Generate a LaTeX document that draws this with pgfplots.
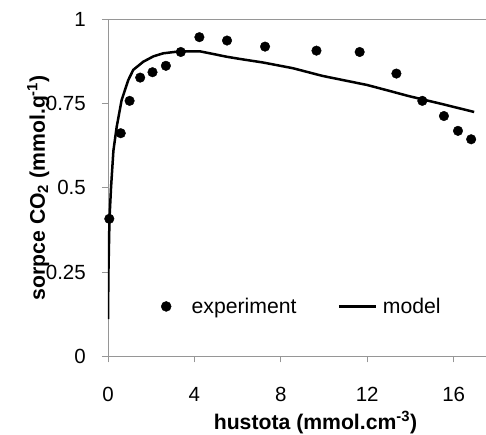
\documentclass[border=0pt]{standalone}
\usepackage{fontspec}
\setmainfont{Liberation Sans}
\usepackage{pgfplots}
\pgfplotsset{compat=1.18}
\definecolor{axgray}{RGB}{150,150,150}
\newcommand\fs{\fontsize{20.5}{24.6}\selectfont}
\newcommand\fl{\fontsize{21.2}{25.4}\selectfont}
\begin{document}
\begin{tikzpicture}
\begin{axis}[
  at={(0,0)}, anchor=south west,
  scale only axis, width=415pt, height=337pt,
  xmin=0, xmax=19.21, ymin=0, ymax=1,
  xtick={0,4,8,12,16}, ytick={0,0.25,0.5,0.75,1},
  yticklabels={0,0.25,0.5,0.75,1},
  xtick pos=bottom, ytick pos=left,
  tick align=outside, major tick length=6pt,
  axis line style={axgray, line width=0.9pt},
  tick style={axgray, line width=0.9pt},
  /pgf/number format/assume math mode=true,
  tick label style={font=\fs, text=black},
  xticklabel style={anchor=base, yshift=-38.7pt, inner sep=0pt},
  yticklabel style={anchor=east, xshift=-16pt, inner sep=0pt},
  xlabel={\textbf{hustota (mmol.cm\textsuperscript{-3})}},
  ylabel={\textbf{sorpce CO\textsubscript{2} (mmol.g\textsuperscript{-1})}},
  every axis x label/.style={at={(axis description cs:0.5,0)}, anchor=base, yshift=-73pt, font=\fl},
  every axis y label/.style={at={(axis description cs:0,0.5)}, xshift=-63pt, rotate=90, anchor=base, font=\fl},
  legend style={draw=none, fill=none, font=\fl, at={(0.0976,0.148)}, anchor=west, inner sep=0pt,
    nodes={inner sep=0pt},
    /tikz/every odd column/.append style={column sep=6pt},
    /tikz/every even column/.append style={column sep=41pt}},
  legend columns=2,
]
\addplot[only marks, mark=*, mark size=4.8pt, black,
  legend image code/.code={\pgfpathmoveto{\pgfpoint{0pt}{0pt}}\pgfpathlineto{\pgfpoint{37pt}{0pt}}\pgfusepath{}\fill[black] (17.5pt,0pt) circle (5pt);}] coordinates {
(0.06,0.408)(0.59,0.662)(1.0,0.758)(1.49,0.827)(2.06,0.843)(2.68,0.862)
(3.37,0.903)(4.23,0.947)(5.51,0.937)(7.27,0.919)(9.65,0.907)(11.65,0.903)
(13.35,0.839)(14.55,0.758)(15.55,0.713)(16.2,0.669)(16.81,0.644)};
\addlegendentry{experiment}
\addplot[black, line width=2.5pt, no marks,
  legend image code/.code={\draw[black, line width=2.4pt] (0pt,0pt) -- (37pt,0pt);}] coordinates {
(0,0.11)(0.02,0.25)(0.07,0.41)(0.14,0.5)(0.25,0.61)(0.4,0.68)(0.63,0.76)
(0.94,0.82)(1.17,0.85)(1.63,0.874)(2.1,0.89)(2.55,0.899)(3.33,0.905)(4.25,0.905)
(4.8,0.898)(5.48,0.889)(6.24,0.881)(7.16,0.872)(8.55,0.855)(9.93,0.832)(10.85,0.82)
(12,0.805)(13.0,0.788)(13.93,0.772)(15.5,0.748)(16.95,0.725)};
\addlegendentry{model}
\end{axis}
\pgfresetboundingbox
\useasboundingbox (-108pt,-77.7pt) rectangle (378pt,356.3pt);
\end{tikzpicture}
\end{document}
